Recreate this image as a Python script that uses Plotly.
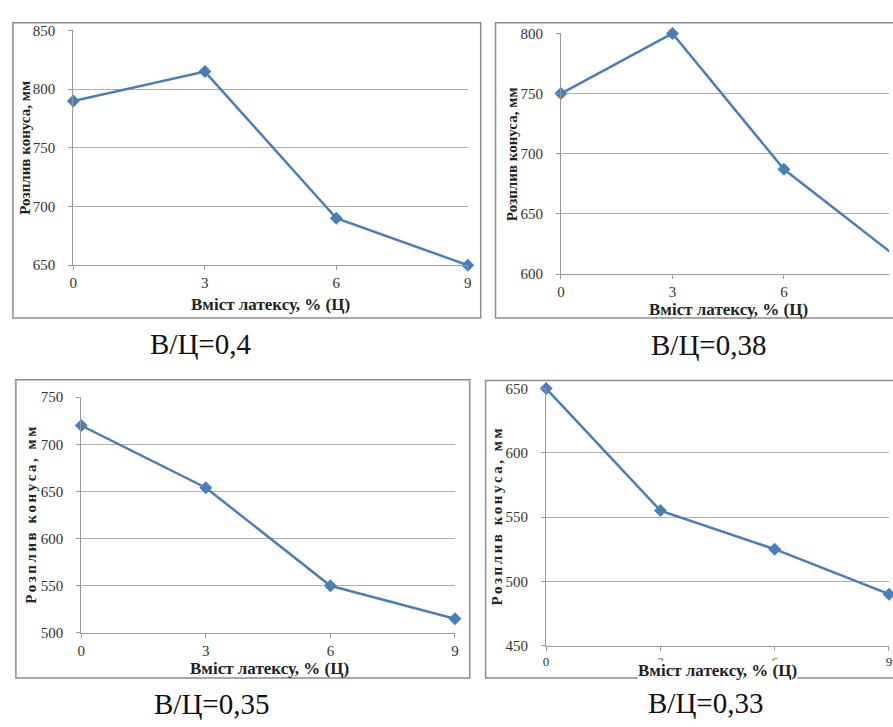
import plotly.graph_objects as go

W, H = 893, 727

# Data
latex = [0, 3, 6, 9]
spread_04 = [790, 815, 690, 650]
spread_038 = [750, 800, 687, 615]
spread_035 = [720, 654, 550, 515]
spread_033 = [650, 555, 525, 490]
captions = ["В/Ц=0,4", "В/Ц=0,38", "В/Ц=0,35", "В/Ц=0,33"]
x_title = "Вміст латексу, % (Ц)"
y_title = "Розплив конуса, мм"

def px_x(v):
    return v / W

def px_y(v):
    return 1 - v / H

SERIF = "Liberation Serif"
BLUE = "#4A7EBB"

panels = [
    dict(data=spread_04, plot=(70, 468, 23, 263), yr=[650, 850], xmax=9,
         box=(9, 481, 15, 317), ytx=21, xtitle=(269, 303), cap=(198, 344), xfs=15),
    dict(data=spread_038, plot=(562, 893, 26, 272), yr=[600, 800], xmax=331 / 37.5,
         box=(496, 905, 15, 317), ytx=512, xtitle=(731, 308), cap=(711, 345), xfs=15),
    dict(data=spread_035, plot=(78, 455, 398, 639), yr=[500, 750], xmax=9,
         box=(12, 470, 380, 685), ytx=27, xtitle=(268, 675), cap=(209, 712), xfs=15),
    dict(data=spread_033, plot=(547, 893, 389, 652), yr=[450, 650], xmax=9,
         box=(486, 905, 381, 685), ytx=497, xtitle=(720, 677), cap=(708, 711), xfs=13),
]

fig = go.Figure()
shapes = []
annotations = []

for i, p in enumerate(panels):
    n = "" if i == 0 else str(i + 1)
    l, r, t, b = p["plot"]
    fig.add_trace(go.Scatter(
        x=latex, y=p["data"], mode="lines+markers",
        line=dict(color=BLUE, width=2.5),
        marker=dict(symbol="diamond", size=10, color=BLUE),
        xaxis="x" + n, yaxis="y" + n, showlegend=False, cliponaxis=False,
    ))
    fig.update_layout(**{
        "xaxis" + n: dict(
            domain=[px_x(l), min(px_x(r), 1)], range=[0, p["xmax"]],
            anchor="y" + n, tickmode="array", tickvals=latex,
            ticks="outside", ticklen=4, tickcolor="#999999",
            showline=True, linecolor="#999999", linewidth=1,
            showgrid=False, zeroline=False,
            tickfont=dict(family=SERIF, size=p["xfs"], color="#333333"),
        ),
        "yaxis" + n: dict(
            domain=[px_y(b), px_y(t)], range=p["yr"],
            anchor="x" + n, dtick=50,
            ticks="outside", ticklen=4, tickcolor="#999999",
            showline=True, linecolor="#999999", linewidth=1,
            showgrid=True, gridcolor="#B0B0B0", gridwidth=1, zeroline=False,
            ticklabelstandoff=10,
            tickfont=dict(family=SERIF, size=15, color="#333333"),
        ),
    })
    bl, br, bt, bb = p["box"]
    shapes.append(dict(type="rect", xref="paper", yref="paper",
                       x0=px_x(bl), x1=px_x(br), y0=px_y(bb), y1=px_y(bt),
                       line=dict(color="#8C8C8C", width=1.5)))
    yt = y_title if i < 2 else "\u200a\u200a".join(y_title)
    annotations.append(dict(
        text="<b>" + yt + "</b>", xref="paper", yref="paper",
        x=px_x(p["ytx"]), y=px_y((t + b) / 2), textangle=-90,
        showarrow=False, xanchor="center", yanchor="middle",
        font=dict(family=SERIF, size=15, color="#222222")))
    annotations.append(dict(
        text="<b>" + x_title + "</b>", xref="paper", yref="paper",
        x=px_x(p["xtitle"][0]), y=px_y(p["xtitle"][1]),
        showarrow=False, xanchor="center", yanchor="middle",
        bgcolor="white" if i == 3 else None, borderpad=0,
        font=dict(family=SERIF, size=17, color="#222222")))
    annotations.append(dict(
        text=captions[i], xref="paper", yref="paper",
        x=px_x(p["cap"][0]), y=px_y(p["cap"][1]),
        showarrow=False, xanchor="center", yanchor="middle",
        font=dict(family=SERIF, size=29, color="#111111")))

fig.update_layout(
    width=W, height=H, margin=dict(l=0, r=0, t=0, b=0),
    paper_bgcolor="white", plot_bgcolor="white",
    shapes=shapes, annotations=annotations,
)

fig.write_html("out.html")
